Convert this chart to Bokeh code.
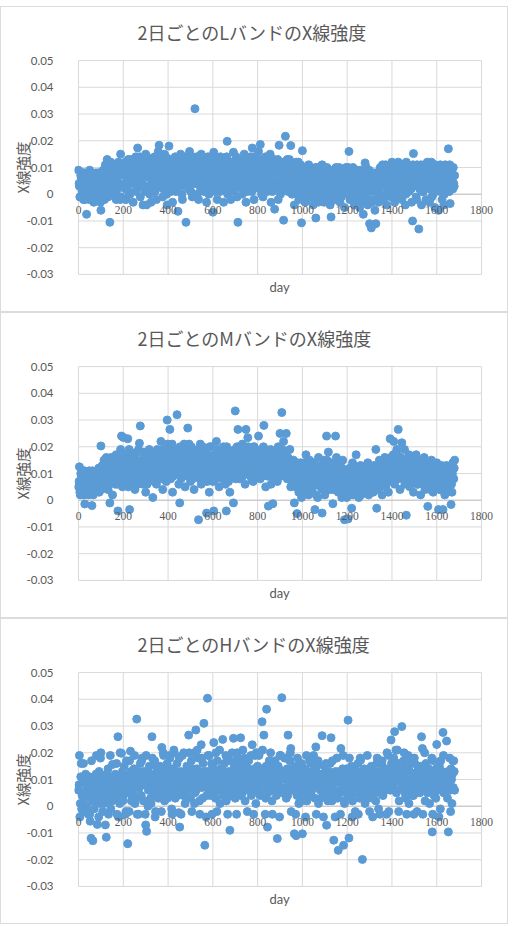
from bokeh.plotting import figure
from bokeh.models import Range1d, Title, Spacer, LabelSet, ColumnDataSource
from bokeh.layouts import column
from bokeh.embed import file_html
from bokeh.resources import INLINE

# two interleaved sampling grids (every 2 days overall)
days_a = list(range(0, 1681, 4))
days_b = list(range(2, 1679, 4))

l_band_a = [
    .009, .003, -.001, .006, .001, .008, .004, -.002, .002, -.0075,
    .005, .007, -.002, .002, .008, .000, .004, -.003, .006, .003,
    .001, .007, -.002, .004, .005, -.006, .002, .000, .006, -.002,
    .011, .004, .013, -.001, .006, -.0105, .012, .003, .009, .001,
    .005, .010, -.002, .007, .002, .011, .004, .015, -.001, .008,
    .003, .009, .012, -.002, .006, .010, .001, .007, .013, .004,
    .008, -.003, .011, .005, .014, .002, .0173, .009, .006, -.001,
    .012, .004, -.004, .010, .007, .015, -.004, .003, .009, .013,
    .006, -.003, .011, .002, .008, .014, .005, -.002, .010, .016,
    .0183, .007, .003, .012, -.001, .009, .015, .004, .011, -.004,
    .006, .018, .002, .013, .008, -.003, .010, .005, .014, .001,
    .007, -.0064, .012, .004, .015, .009, -.002, .011, .006, .003,
    -.0105, .008, .013, .002, .016, .005, .010, -.001, .012, .007,
    .032, .004, .014, .009, -.002, .011, .003, .015, .006, .010,
    .001, .012, .007, -.003, .009, .004, .013, .002, .010, .006,
    -.0067, .0157, .008, .003, .011, -.002, .006, .012, .001, .009,
    .005, .013, -.003, .010, .007, .002, .0198, .011, .004, .008,
    -.002, .012, .006, .0157, .003, .009, .014, -.001, -.0105, .007,
    .011, .004, .013, .000, .008, .015, .006, -.003, .010, .002,
    .012, .007, .014, .003, .0173, .009, -.002, .011, .005, .013,
    .008, .016, .002, .0186, .010, .006, -.001, .012, .004, .014,
    .009, .001, .011, .006, .015, -.003, .008, .003, .013, -.0056,
    .010, .005, .012, -.002, .0183, .007, .002, .011, .006, -.0097,
    .009, .0217, .004, .013, .001, .008, .011, .0182, .005, .002,
    .010, -.004, .007, .012, .003, .009, -.002, .006, .011, -.0107,
    .0163, .004, .008, -.003, .010, .002, .006, .011, -.001, .005,
    .009, .003, -.004, .007, .000, -.0089, .010, .004, .006, -.002,
    .008, .001, .011, .005, -.003, .006, .002, .009, -.001, .004,
    .007, -.004, -.0085, .003, .009, .000, .006, -.002, .008, .002,
    .005, .010, -.003, .004, .007, .001, .009, -.005, .003, .006,
    .002, .010, .016, -.002, .005, .008, .000, .004, -.004, .007,
    .003, .009, -.001, .006, -.005, .002, .008, -.003, -.0075, .004,
    .0117, .0102, .001, -.004, .006, -.011, .003, -.0126, .007, -.002,
    .005, -.006, -.011, .002, .008, -.003, .004, .010, .000, .006,
    -.002, .009, .003, .011, -.004, .006, .001, .010, .007, -.001,
    .012, .004, .008, -.003, .010, .005, .000, .012, .006, .002,
    .009, -.002, .011, .004, .007, -.004, .012, .003, .008, .001,
    .006, .010, -.003, -.010, .0152, .004, .008, -.001, .011, .005,
    -.013, .002, .009, -.004, .006, .001, .010, .004, -.002, .007,
    .011, .003, -.003, .008, .012, .005, .000, .009, -.005, .006,
    .002, .010, -.006, .004, .011, .007, -.002, .005, -.004, .008,
    .003, .010, .006, .017, .001, -.0035, .009, .005, .002, .004,
    .007,
]
l_band_b = [
    .004, -.001, .007, .002, .005, -.002, .008, .003, .000, .006,
    .002, .006, .009, -.001, .004, .007, .001, .005, -.002, .008,
    .003, .000, .008, .005, -.003, .006, .002, .009, .004, .007,
    .008, .002, .010, .005, .012, .000, .007, .011, .004, .009,
    .006, .001, .009, .004, .012, .007, -.002, .010, .003, .011,
    .007, .011, .002, .009, .005, .013, .008, .000, .010, .006,
    .011, .004, .009, .013, .001, .007, .012, .005, .014, .008,
    .003, .010, .006, .012, .001, .009, .014, .007, .011, .000,
    .009, .013, .004, .010, .007, .001, .012, .006, .013, .003,
    .010, .005, .013, .008, .002, .011, .006, .014, .000, .009,
    .012, .004, .009, .001, .011, .007, .013, .003, .008, .010,
    .002, .009, .005, .013, .010, .000, .007, .012, .004, .014,
    .006, .011, .003, .009, .013, .001, .008, .014, .004, .010,
    .007, .012, .000, .009, .005, .013, .002, .008, .011, .004,
    .009, .003, .011, .006, .014, .000, .008, .012, .004, .010,
    .005, .010, .001, .013, .007, .011, .003, .009, .014, .006,
    .010, .002, .008, .012, .005, .014, .000, .009, .006, .012,
    .008, .004, .011, .001, .010, .006, .013, .003, .008, .011,
    .006, .010, .002, .012, .008, .004, .011, .013, .001, .009,
    .005, .010, .008, .001, .012, .006, .014, .003, .009, .011,
    .012, .004, .009, .013, .000, .010, .007, .011, .002, .008,
    .006, .012, .003, .010, .008, .013, .001, .009, .005, .011,
    .002, .009, .013, .006, .010, .000, .012, .004, .008, .003,
    .012, .006, .010, .002, .008, .013, .004, .009, .000, .007,
    .005, .011, .001, .008, .004, .012, .007, -.001, .009, .003,
    .007, .001, .010, .005, -.002, .008, .003, .009, .006, .000,
    .004, .008, -.001, .006, .010, .002, .007, -.003, .005, .009,
    .002, .006, -.002, .009, .004, .007, .000, .010, .003, .006,
    .004, .009, .001, .006, -.002, .008, .003, .010, .000, .005,
    .008, .002, .006, -.001, .009, .004, .007, .001, .010, .003,
    .006, .000, .008, .003, -.002, .007, .010, .002, .005, -.001,
    .007, .002, .005, -.003, .009, .003, .006, .000, .004, .008,
    .003, .007, -.002, .005, .009, .001, .004, -.003, .006, .002,
    .008, .001, .004, -.002, .007, .003, .009, .000, .005, .011,
    .004, .008, -.001, .006, .010, .002, .008, .005, .011, .003,
    .007, .010, .001, .009, .005, .011, .003, .008, -.001, .010,
    .005, .008, .002, .010, .006, .000, .009, .004, .011, .006,
    .009, .002, .007, .011, .003, .008, .005, -.002, .009, .004,
    .008, .005, .011, .001, .007, .010, .003, .009, .006, .012,
    .005, .009, .002, .007, -.001, .010, .004, .008, .011, .002,
    .007, .004, .009, .001, .006, .010, .003, .008, .000, .011,
    .005, .008, .002, .007, .011, .004, .009, .006, .010, .003,
]

m_band_a = [
    .005, .0125, .002, .009, .006, .003, .010, -.0014, .007, .004,
    .008, .002, .011, .005, .009, -.002, .006, .003, .010, .007,
    .004, .011, .008, .003, .012, .0203, .006, .009, .005, .013,
    .007, .016, .010, .004, .015, -.001, .009, .012, .002, .014,
    .011, .006, .017, .008, -.004, .013, .010, .019, .024, .005,
    .0235, .009, .014, .007, .016, .023, .011, -.0035, .018, .006,
    .013, .009, .017, .004, .012, .015, .008, .019, .0213, .0278,
    .010, .014, .006, .018, .011, .003, .016, .009, .013, .019,
    .008, .015, .012, .001, .017, .010, .014, .006, .019, .011,
    .016, .009, .022, .013, .004, .018, .011, .015, .007, .030,
    .012, .020, .0265, .008, .016, .003, .014, .019, .010, .017,
    .032, .011, .006, -.001, .015, .018, .009, .013, .021, .005,
    .014, .019, .027, .010, .016, .007, .020, .012, .017, .004,
    .013, .018, .009, .015, -.0073, .011, .021, .006, .016, .012,
    .019, .008, .014, -.0048, .017, .010, .003, .015, .020, .011,
    .007, -.004, .016, .012, .022, .009, .014, .005, .018, .011,
    .015, .008, .020, .013, .006, -.004, .017, .010, .014, .003,
    .012, .018, .009, -.001, .016, .0334, .011, .020, .0265, .014,
    .008, .017, .013, .021, .010, .015, .006, .0265, .019, .0234,
    .012, .016, .009, .018, .014, .007, .020, .011, .015, .010,
    .017, .024, .013, .008, .019, .011, .016, .028, .012, .005,
    .014, .009, -.0022, .018, .012, .006, .015, -.0013, .010, .017,
    .011, .016, .007, .020, .013, .025, .009, .0328, .015, .022,
    .012, .018, .025, .008, .016, .011, .019, .005, .013, .009,
    .015, -.001, .010, .006, -.005, .012, .003, .009, .014, .001,
    .008, .013, .004, .011, .017, .006, .010, .002, .015, .007,
    .012, .003, .009, .014, -.0035, .006, .011, .001, .016, .008,
    .005, .013, -.0048, .009, .015, .002, .010, .024, .007, .018,
    .011, .004, .014, .008, -.0013, .012, .006, .024, .016, .009,
    .003, .013, .007, .010, .001, .015, .005, -.0073, .011, .006,
    .009, -.007, .004, .012, .008, -.003, .014, .002, .010, .006,
    .017, .005, .011, .001, .008, .013, .003, .009, .006, .012,
    .004, .010, .007, .014, .002, .009, .005, .011, .008, .003,
    .013, .006, .019, -.003, .010, .004, .015, .008, .012, .002,
    .011, .007, .016, .005, .009, .014, .003, .012, .023, .008,
    .015, .010, .022, .006, .013, .018, .009, .0265, .011, .004,
    .016, .0215, .008, .013, .019, .007, -.0056, .012, .010, .017,
    .005, .011, .016, .009, .003, .014, .008, .017, .012, .006,
    .010, .015, .002, .013, .007, .011, .016, .004, .009, .014,
    -.0023, .008, .012, .005, .015, .010, .003, .013, .007, .011,
    .014, .006, -.0035, .010, .004, .012, .008, -.0035, .011, .002,
    .009, .013, .005, .010, .007, .012, -.0016, .003, .014, .008,
    .015,
]
m_band_b = [
    .007, .003, .010, .005, .008, .002, .011, .006, .004, .009,
    .006, .010, .003, .008, .005, .011, .002, .007, .009, .004,
    .008, .005, .012, .007, .010, .004, .013, .009, .015, .006,
    .012, .009, .005, .014, .011, .007, .016, .010, .013, .008,
    .009, .014, .012, .006, .016, .010, .013, .008, .015, .011,
    .012, .007, .017, .010, .014, .005, .019, .012, .009, .015,
    .010, .016, .008, .013, .011, .018, .006, .014, .012, .009,
    .015, .012, .008, .017, .010, .013, .006, .015, .011, .018,
    .013, .009, .016, .011, .007, .014, .018, .010, .012, .015,
    .011, .017, .013, .008, .019, .012, .016, .010, .014, .021,
    .015, .010, .018, .013, .021, .009, .016, .012, .019, .014,
    .011, .017, .014, .020, .008, .015, .012, .018, .010, .016,
    .013, .009, .016, .021, .011, .014, .018, .008, .015, .012,
    .017, .010, .014, .019, .012, .008, .016, .013, .020, .009,
    .014, .011, .018, .007, .015, .012, .020, .009, .016, .013,
    .010, .017, .013, .008, .015, .019, .011, .014, .009, .016,
    .012, .018, .009, .015, .011, .020, .013, .007, .016, .012,
    .015, .010, .017, .013, .019, .008, .014, .012, .018, .011,
    .016, .012, .019, .009, .014, .018, .011, .015, .013, .020,
    .011, .017, .014, .008, .016, .013, .019, .010, .015, .012,
    .014, .010, .018, .012, .016, .009, .020, .013, .011, .017,
    .012, .016, .010, .014, .019, .011, .013, .008, .017, .012,
    .015, .010, .018, .013, .011, .017, .014, .019, .012, .016,
    .013, .009, .016, .011, .014, .008, .015, .012, .010, .014,
    .008, .012, .005, .010, .014, .007, .011, .004, .009, .013,
    .006, .010, .014, .008, .003, .012, .009, .005, .011, .007,
    .009, .005, .013, .007, .010, .002, .012, .008, .006, .011,
    .007, .011, .004, .009, .013, .006, .010, .015, .008, .012,
    .009, .013, .006, .011, .004, .010, .014, .007, .012, .008,
    .011, .006, .009, .003, .012, .008, .004, .010, .007, .001,
    .005, .009, .002, .007, .011, .004, .008, .013, .006, .010,
    .003, .008, .012, .006, .009, .002, .010, .005, .007, .011,
    .008, .006, .011, .003, .009, .012, .006, .010, .004, .008,
    .010, .007, .012, .005, .009, .013, .006, .011, .008, .010,
    .009, .013, .006, .011, .015, .008, .012, .010, .016, .007,
    .012, .017, .009, .014, .011, .019, .008, .013, .016, .010,
    .013, .009, .015, .011, .006, .014, .010, .008, .012, .015,
    .009, .013, .007, .011, .014, .008, .012, .010, .006, .013,
    .011, .008, .014, .006, .012, .009, .015, .007, .010, .013,
    .008, .012, .004, .010, .013, .007, .011, .009, .005, .012,
    .010, .007, .012, .004, .009, .013, .006, .011, .008, .005,
    .011, .007, .010, .004, .009, .012, .006, .010, .008, .012,
]

h_band_a = [
    .006, .019, .001, .016, .004, -.002, .009, .003, .012, .000,
    .007, -.003, .011, -.0056, -.012, .005, -.0129, .008, .002, .010,
    .019, -.0068, .004, .013, .001, .020, .006, -.002, .010, .003,
    -.007, -.0116, .008, .014, .002, .011, -.001, .005, .0156, .009,
    .003, .012, .007, -.003, .026, .010, .001, .006, .0198, .013,
    .004, .015, .009, -.002, .011, -.014, .006, .017, .0206, .002,
    .010, .005, .014, .001, .008, .0326, .012, -.003, .007, .016,
    .004, .018, .009, .013, .002, -.007, -.0094, .011, .006, .015,
    .008, .001, .026, .012, .005, .017, -.002, .010, .014, .003,
    .009, .015, .006, .022, .011, .019, .002, .013, .007, .016,
    .012, .005, .018, .009, -.001, .014, .007, .020, .003, .011,
    .016, .006, -.0024, -.0078, .013, .009, .019, .004, .012, .001,
    .010, .015, .006, .0266, .011, .003, .017, .008, .013, .020,
    .005, .0285, .014, .009, .018, .002, .012, .023, .007, .016,
    .031, -.0146, .010, .004, .0404, .013, .019, .006, .009, -.003,
    .015, .0238, .008, .003, .012, .017, .006, .011, .001, .014,
    .009, .025, .005, .016, .011, .002, .018, .007, .013, -.009,
    .004, .012, .008, .0254, .015, .003, .010, .020, .006, .013,
    .009, .0256, .016, .005, .011, .018, .002, .014, .008, .012,
    .017, .006, .010, .004, .023, .013, .007, .019, .001, .011,
    .015, .008, .020, .012, .005, .0316, .014, .0266, .009, .003,
    .0363, -.0078, .011, .017, .006, .013, .002, .009, .016, .008,
    .012, .004, -.0121, .015, .010, .019, .007, .0406, .013, .005,
    .018, .011, .003, .014, .0266, .008, .017, .0216, .006, .012,
    .009, -.0103, .015, -.011, .004, .011, .001, .013, .007, .016,
    -.0103, .010, .005, .014, .008, .002, .012, .006, .017, .009,
    .004, .013, .007, .011, .003, .0222, .015, .008, .001, .012,
    .006, .010, .0264, .005, .0151, .009, .013, -.0071, .004, .011,
    .007, .016, .0256, .002, .010, -.0127, .006, .013, .009, .003,
    -.0165, .011, .005, .0216, .008, .014, -.0146, .001, .010, .006,
    .013, .0322, -.0119, .004, .009, .015, .002, .011, .007, -.002,
    .012, .005, .016, .008, .003, .0172, .010, -.0199, .006, .014,
    .001, .009, .013, .004, .011, -.002, .007, .015, .003, .010,
    .006, .012, .002, .016, .008, -.001, .013, .005, .010, .017,
    .004, .011, .007, .014, -.003, .009, .019, .012, .006, .0248,
    .015, .008, .018, .0279, .010, .005, .021, .013, .002, .016,
    .011, .0298, .007, .017, .012, .003, .014, .009, .019, .001,
    .013, .006, .016, .010, .004, .018, .008, .012, -.002, .015,
    .009, .005, .013, .026, .0216, .007, .011, .002, .016, .010,
    .006, .014, .001, .012, .008, -.0096, .017, .004, .010, .003,
    .0231, .011, .006, .015, -.001, .009, .013, .0276, .005, .012,
    .008, .0244, .003, -.0096, .011, .006, .014, .001, .017, .017,
    .006,
]
h_band_b = [
    .008, -.004, .011, -.001, .005, .016, .003, .009, .006, -.002,
    .004, .010, -.003, .007, .017, .002, .009, -.001, .006, .012,
    .005, .010, -.004, .008, .018, .003, .011, .006, .001, .009,
    .004, .012, .007, -.003, .010, .019, .005, .002, .011, .007,
    .009, .003, .016, .006, -.004, .011, .020, .004, .008, .002,
    .012, .007, -.003, .017, .005, .010, -.002, .008, .013, .004,
    .006, .011, .019, .003, .009, -.003, .013, .007, .010, .004,
    .017, .008, .002, .011, -.003, .019, .009, .000, .012, .007,
    .003, .010, .018, .006, .011, -.004, .008, .015, .004, .012,
    .007, .013, -.002, .010, .020, .005, .011, .008, .014, .003,
    .009, .019, .006, .012, -.003, .010, .021, .005, .013, .008,
    .004, .011, .018, .007, -.003, .012, .009, .020, .006, .010,
    .013, .003, .009, .020, .007, .012, -.002, .014, .010, .001,
    .011, .006, .021, .009, .013, -.003, .010, .018, .003, .012,
    .008, .013, -.004, .011, .019, .006, .010, .004, .016, .009,
    .012, .005, .010, .020, -.002, .013, .008, .021, .006, .010,
    .014, .004, .011, .007, .019, .009, -.003, .012, .017, .006,
    .010, .020, .005, .013, .008, .017, -.003, .011, .018, .007,
    .013, .004, .010, .021, .006, .012, .016, .009, -.002, .014,
    .008, .013, .019, .005, .011, -.003, .014, .009, .020, .006,
    .011, .019, .004, .013, .009, .021, .006, .012, -.003, .015,
    .010, .005, .014, .008, .020, .011, -.003, .013, .007, .017,
    .009, .014, .006, .011, -.004, .019, .010, .013, .005, .012,
    .007, .018, .010, .004, .013, .009, .020, -.002, .011, .014,
    .006, .012, -.003, .010, .018, .008, .013, .005, .011, .002,
    .013, .007, .011, -.004, .019, .009, .012, .004, .010, .016,
    .006, .011, .019, .009, .013, -.003, .010, .017, .007, .012,
    .003, .008, .012, -.004, .010, .006, .016, .009, .002, .013,
    .011, .004, .009, .017, .006, .012, -.004, .010, .018, .005,
    .009, .013, -.003, .011, .007, .019, .002, .012, .008, .014,
    .004, .010, .018, .007, .012, -.004, .009, .014, .005, .011,
    .008, .013, -.003, .010, .018, .006, .012, .004, .009, .013,
    .006, .011, .019, .003, .009, .014, .008, .012, -.004, .010,
    .013, .005, .011, .018, .007, .012, -.003, .009, .016, .008,
    .010, .014, .006, .012, .020, .009, -.002, .013, .011, .016,
    .012, .007, .015, .010, .021, .006, .013, -.002, .016, .009,
    .014, .008, .012, .020, .005, .013, -.003, .015, .007, .012,
    .010, .018, .004, .012, -.003, .016, .011, .006, .013, .009,
    .012, .007, .015, .010, -.003, .013, .020, .008, .011, .005,
    .010, .013, .006, .011, .018, -.003, .009, .012, .007, .014,
    .008, .012, -.004, .010, .017, .007, .011, .019, .005, .009,
    .011, .006, .013, .008, .018, -.002, .010, .012, .007, .013,
]

titles = ["2日ごとのLバンドのX線強度", "2日ごとのMバンドのX線強度", "2日ごとのHバンドのX線強度"]
x_label = "day"
y_label = "X線強度"
x_ticks = [0, 200, 400, 600, 800, 1000, 1200, 1400, 1600, 1800]
x_tick_labels = ["0", "200", "400", "600", "800", "1000", "1200", "1400", "1600", "1800"]
y_ticks = [0.05, 0.04, 0.03, 0.02, 0.01, 0, -0.01, -0.02, -0.03]
y_tick_labels = ["0.05", "0.04", "0.03", "0.02", "0.01", "0", "-0.01", "-0.02", "-0.03"]

TEXT = "#595959"
GRID = "#d9d9d9"
AXIS = "#c4c4c4"
DOT = "#5b9bd5"


def make_panel(title, vals_a, vals_b):
    # frame slightly wider than the 0..1800 / -0.03..0.05 plot area so that
    # edge markers and the "1800" label are not clipped
    p = figure(width=508, height=306, x_range=Range1d(-18, 1867), y_range=Range1d(-0.0304, 0.0504),
               output_backend="svg", toolbar_location=None, x_axis_location=None,
               title_location=None,
               min_border_left=73, min_border_right=13, min_border_top=52, min_border_bottom=38)
    p.styles = {"border": "1px solid #dcdcdc", "box-sizing": "border-box"}
    p.outline_line_color = None
    p.background_fill_color = "white"
    p.border_fill_color = "white"
    p.xgrid.visible = False
    p.ygrid.visible = False

    # gap between the chart title and the plot area
    p.add_layout(Title(text=" ", text_font_size="1px", standoff=10), "above")
    p.add_layout(Title(text=title, align="left", offset=63, vertical_align="top", standoff=0,
                       text_font="Noto Sans CJK JP", text_font_size="18px",
                       text_font_style="normal", text_color=TEXT), "above")

    ya = p.yaxis[0]
    ya.ticker = y_ticks
    ya.major_label_overrides = dict(zip(y_ticks, y_tick_labels))
    ya.axis_line_color = None
    ya.major_tick_line_color = None
    ya.minor_tick_line_color = None
    ya.major_label_standoff = 15
    ya.major_label_text_font = "Lato"
    ya.major_label_text_font_size = "11.5px"
    ya.major_label_text_color = TEXT
    ya.axis_label = y_label
    ya.axis_label_standoff = -9
    ya.axis_label_text_font = "Noto Sans CJK JP"
    ya.axis_label_text_font_size = "14.5px"
    ya.axis_label_text_font_style = "normal"
    ya.axis_label_text_color = TEXT

    # gridlines of the plot area
    hg = p.segment(x0=x_ticks[0], x1=x_ticks[-1], y0=y_ticks, y1=y_ticks,
                   line_color=GRID, line_width=1)
    vg = p.segment(x0=x_ticks, x1=x_ticks, y0=y_ticks[-1], y1=y_ticks[0],
                   line_color=GRID, line_width=1)
    ax = p.segment(x0=x_ticks[0], x1=x_ticks[-1], y0=0, y1=0, line_color=AXIS, line_width=1)
    for r in (hg, vg, ax):
        r.level = "underlay"

    p.add_layout(Title(text=x_label, align="left", offset=195, text_font="Lato",
                       text_font_size="13px", text_font_style="normal", text_color=TEXT,
                       standoff=3), "below")

    p.scatter(days_a[:len(vals_a)], vals_a, size=8, marker="circle",
              fill_color=DOT, line_color=DOT)
    p.scatter(days_b[:len(vals_b)], vals_b, size=8, marker="circle",
              fill_color=DOT, line_color=DOT)

    src = ColumnDataSource(dict(x=x_ticks, y=[0] * len(x_ticks), text=x_tick_labels))
    p.add_layout(LabelSet(x="x", y="y", text="text", source=src, text_align="center",
                          text_baseline="middle", y_offset=-16, text_font="Lato",
                          text_font_size="11.5px", text_color=TEXT))
    return p


panels = [make_panel(t, a, b) for t, a, b in zip(
    titles, [l_band_a, m_band_a, h_band_a], [l_band_b, m_band_b, h_band_b])]
layout = column(Spacer(height=6, width=508), *panels, spacing=0)

open("out.html", "w").write(file_html(layout, INLINE))
